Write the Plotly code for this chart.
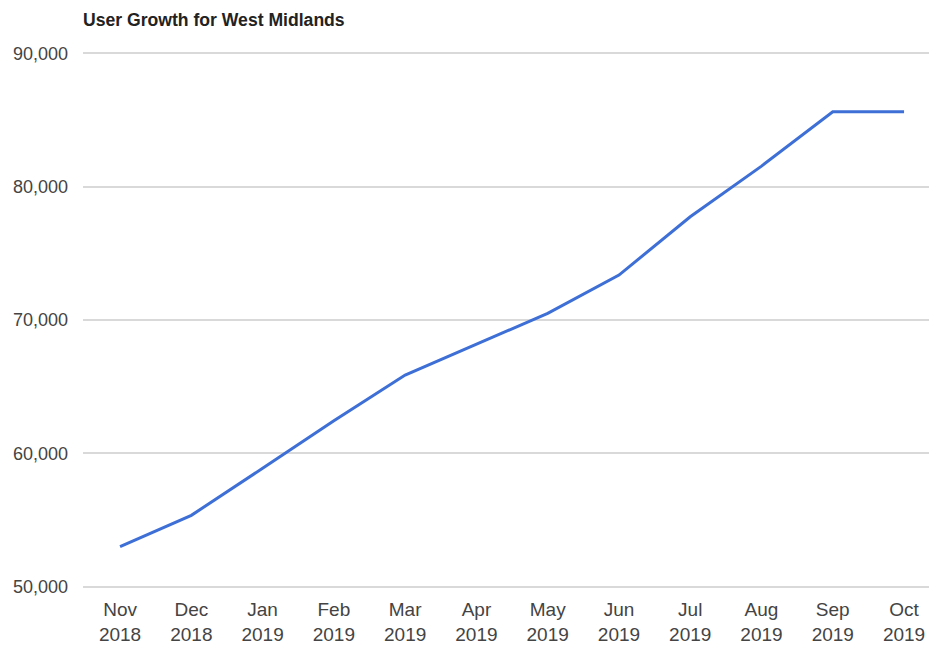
import plotly.graph_objects as go

months = ["Nov", "Dec", "Jan", "Feb", "Mar", "Apr", "May", "Jun", "Jul", "Aug", "Sep", "Oct"]
years = ["2018", "2018", "2019", "2019", "2019", "2019", "2019", "2019", "2019", "2019", "2019", "2019"]
users = [53000, 55350, 58880, 62450, 65870, 68170, 70500, 73370, 77740, 81540, 85610, 85610]

tick_labels = [f"{m}<br>{y}" for m, y in zip(months, years)]
idx = list(range(len(months)))

fig = go.Figure()
fig.add_trace(go.Scatter(
    x=idx, y=users, mode="lines",
    line=dict(color="#3d6fd6", width=3),
    hoverinfo="y",
))

fig.update_layout(
    width=929, height=645,
    margin=dict(l=83, r=0, t=52, b=57),
    paper_bgcolor="white", plot_bgcolor="white",
    showlegend=False,
    font=dict(family="Liberation Sans, Arial", size=18, color="#444444"),
    title=dict(text="<b>User Growth for West Midlands</b>", x=83/929, xanchor="left",
               y=1-20/645, yanchor="middle",
               font=dict(family="Liberation Sans, Arial", size=17.6, color="#222222")),
)
fig.update_xaxes(
    range=[-0.52, 11.35], tickmode="array", tickvals=idx, ticktext=tick_labels,
    showgrid=False, zeroline=False, showline=False, ticks="", fixedrange=True,
    ticklabelstandoff=8, tickfont=dict(size=19),
)
fig.update_yaxes(
    range=[49900, 90100], tickmode="array", tickvals=[50000, 60000, 70000, 80000, 90000],
    tickformat=",d", showgrid=True, gridcolor="#d9d9d9", gridwidth=1.5,
    zeroline=False, showline=False, ticks="", ticklabelstandoff=14,
)

fig.write_html("out.html")
